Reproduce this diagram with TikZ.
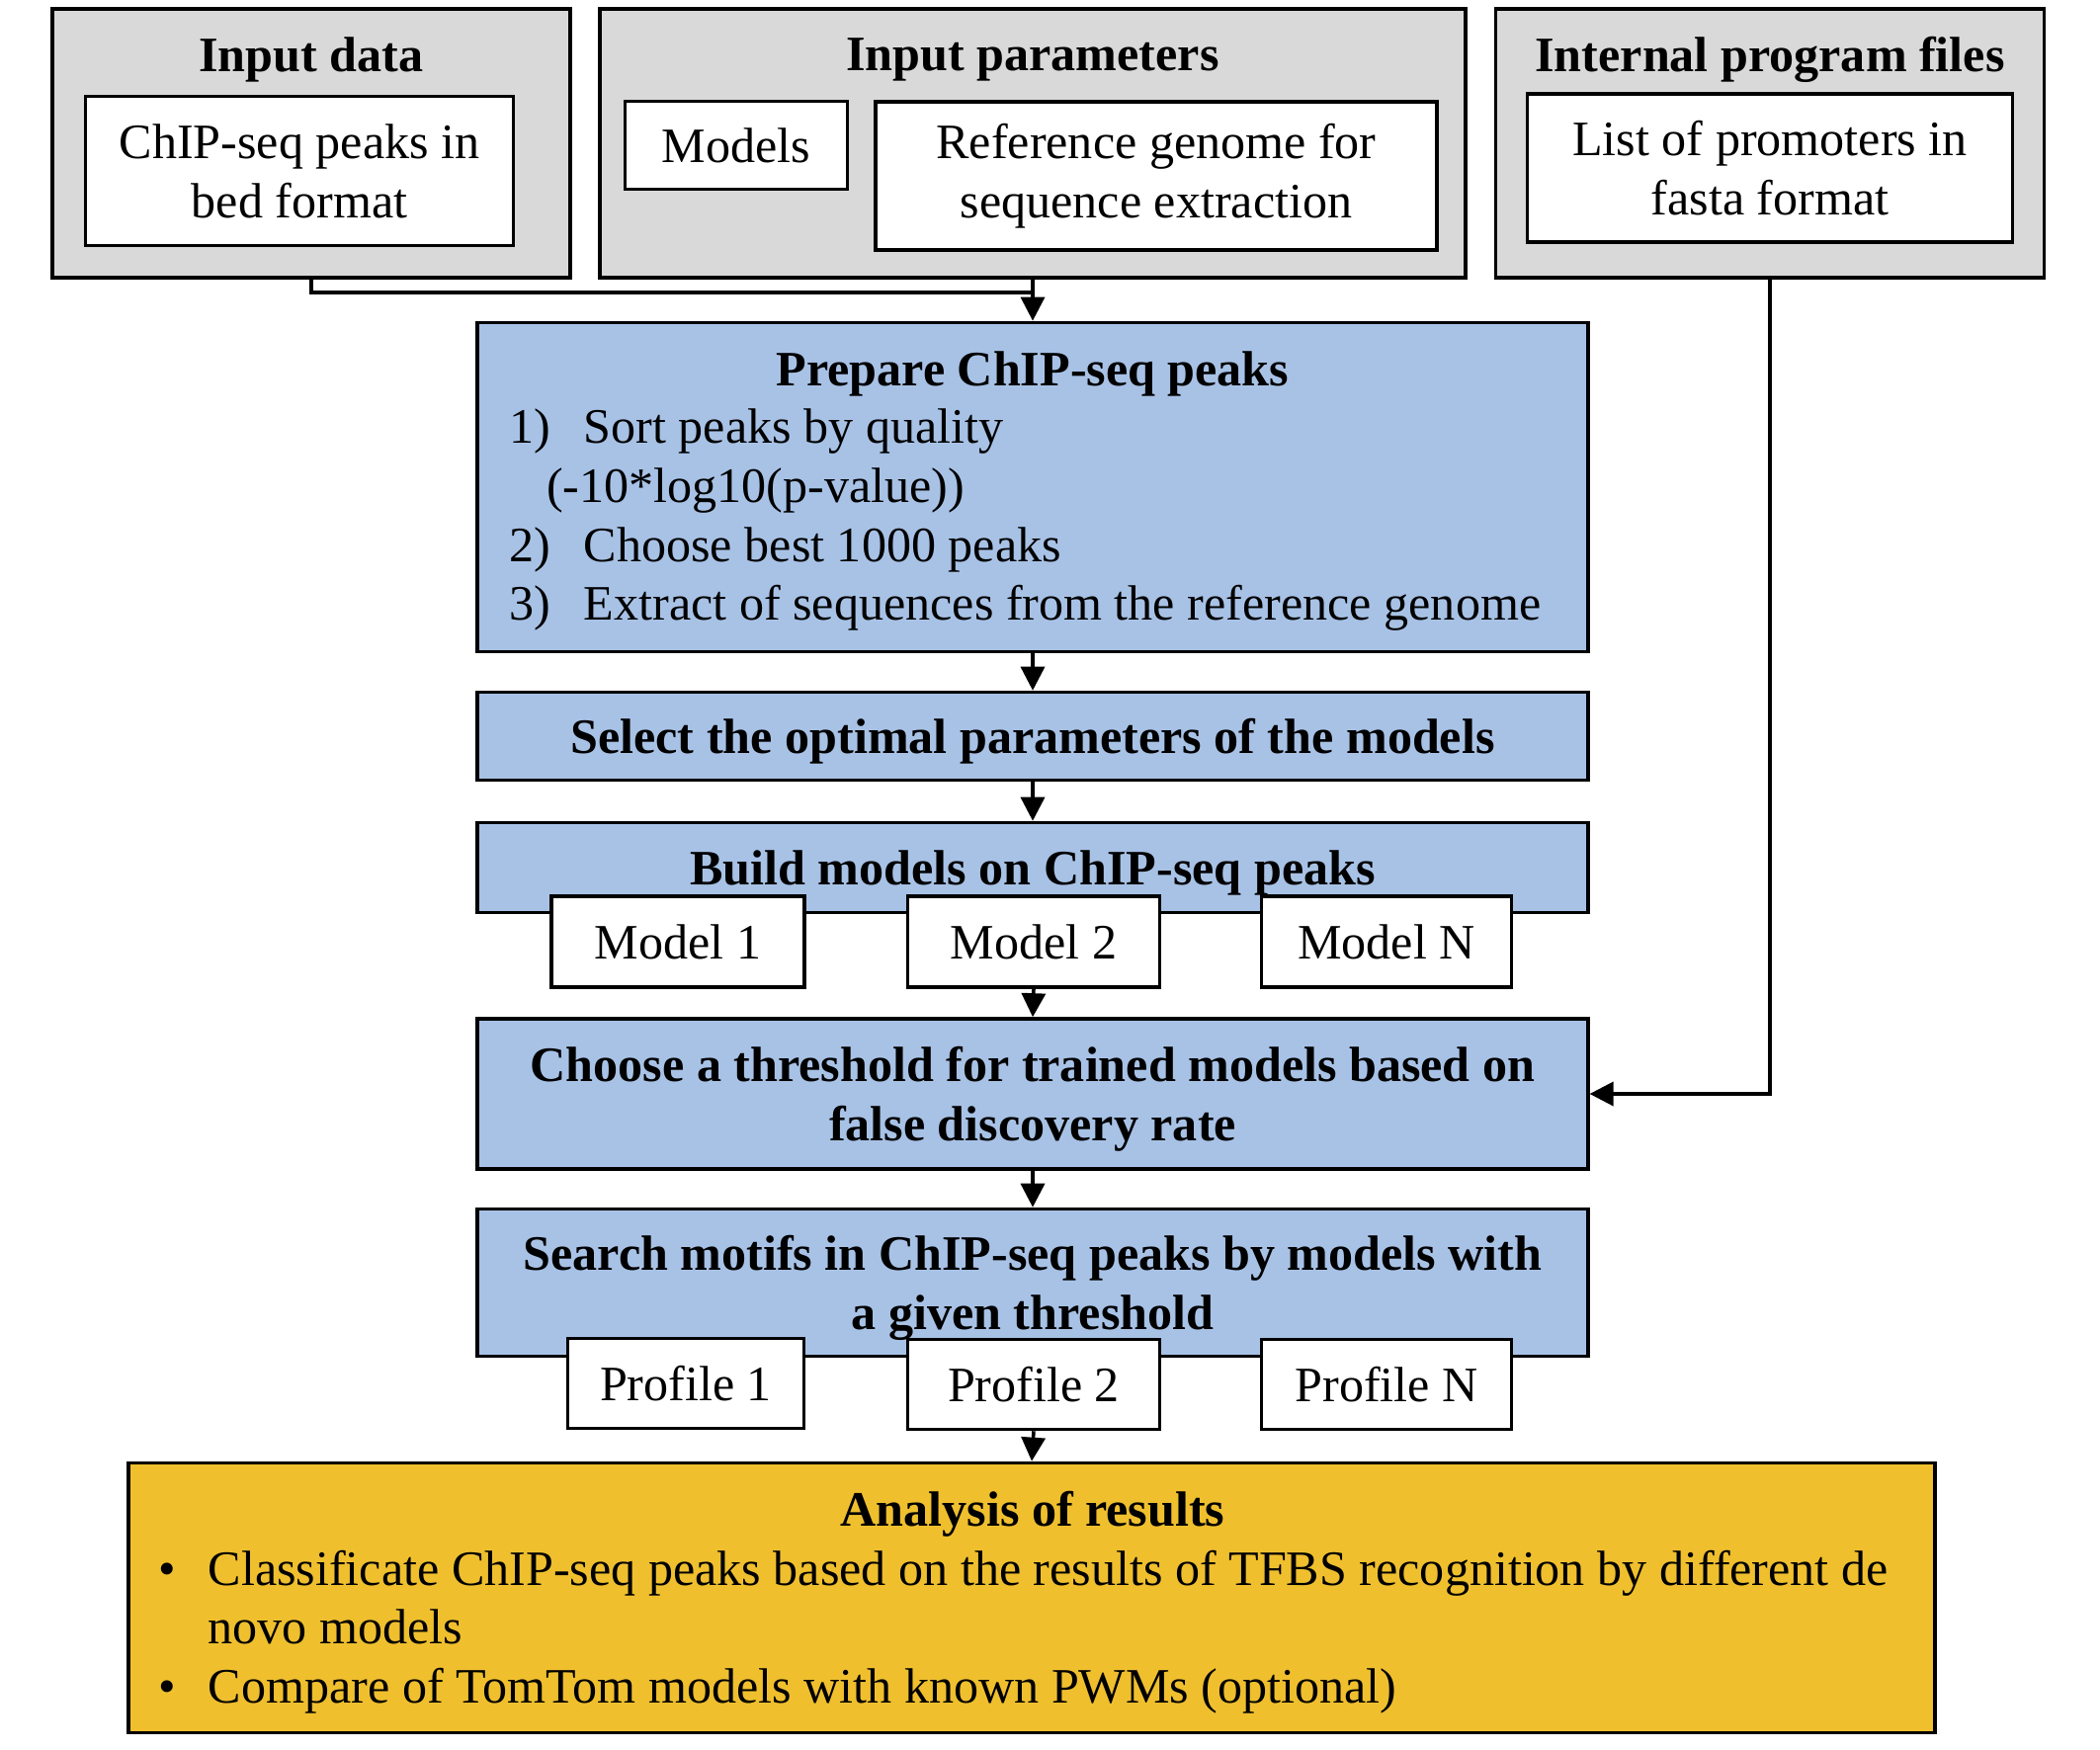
\documentclass[tikz,border=0pt]{standalone}
\usepackage{fontspec}
\setmainfont{Liberation Serif}
\usetikzlibrary{arrows.meta, positioning, calc}
\definecolor{boxgray}{RGB}{217,217,217}
\definecolor{stepblue}{RGB}{168,194,230}
\definecolor{resgold}{RGB}{239,191,46}

\begin{document}
\begin{tikzpicture}[x=0.01cm, y=-0.01cm,
    font=\fontsize{14.25}{17}\selectfont,
    group/.style={draw, line width=1pt, fill=boxgray, minimum height=2.72cm, inner sep=0pt},
    itembox/.style={draw, line width=1pt, fill=white, align=center, inner sep=0pt},
    stepbox/.style={draw, line width=1pt, fill=stepblue, align=center, inner sep=0pt, minimum width=11.23cm, text depth=0pt},
    heading/.style={font=\fontsize{14.25}{17}\selectfont\bfseries, align=center, inner sep=0pt, text depth=0pt},
    arr/.style={-{Triangle[length=2.4mm,width=2.4mm]}, line width=1pt}]
    \useasboundingbox (0,0) rectangle (2125,1770);

    % Input data
    \node[group, minimum width=5.24cm] (indata) at (315,145) {};
    \node[heading] (indatat) at (315,55) {Input data};
    \node[itembox, minimum width=4.33cm, minimum height=1.51cm] (peaks) at (303,173) {ChIP-seq peaks in\\bed format};

    % Input parameters
    \node[group, minimum width=8.75cm] (inparams) at (1045,145) {};
    \node[heading] (inparamst) at (1045,55) {Input parameters};
    \node[itembox, minimum width=2.25cm, minimum height=0.89cm] (models) at (745,147) {Models};
    \node[itembox, minimum width=5.68cm, minimum height=1.50cm] (refgen) at (1170,178) {Reference genome for\\sequence extraction};

    % Internal program files
    \node[group, minimum width=5.55cm] (internal) at (1791,145) {};
    \node[heading] (internalt) at (1791,55) {Internal program files};
    \node[itembox, minimum width=4.91cm, minimum height=1.50cm] (promoters) at (1791,170) {List of promoters in\\fasta format};

    % Prepare ChIP-seq peaks
    \node[stepbox, minimum height=3.33cm] (prep) at (1045,493) {};
    \node[heading] (prept) at (1045,373) {Prepare ChIP-seq peaks};
    \node[align=left, anchor=north west, inner sep=0pt] (preplist) at (515,413)
        {\makebox[1.5em][l]{1)}Sort peaks by quality\\
         \hspace*{0.75em}(-10*log10(p-value))\\
         \makebox[1.5em][l]{2)}Choose best 1000 peaks\\
         \makebox[1.5em][l]{3)}Extract of sequences from the reference genome};

    % Select parameters
    \node[stepbox, minimum height=0.89cm, font=\fontsize{14.25}{17}\selectfont\bfseries] (select) at (1045,745) {Select the optimal parameters of the models};

    % Build models
    \node[stepbox, minimum height=0.91cm, font=\fontsize{14.25}{17}\selectfont\bfseries] (build) at (1045,878) {Build models on ChIP-seq peaks};
    \node[itembox, minimum width=2.56cm, minimum height=0.92cm] (m1) at (686,953) {Model 1};
    \node[itembox, minimum width=2.55cm, minimum height=0.92cm] (m2) at (1046,953) {Model 2};
    \node[itembox, minimum width=2.53cm, minimum height=0.92cm] (mN) at (1403,953) {Model N};

    % Threshold
    \node[stepbox, minimum height=1.52cm, font=\fontsize{14.25}{17}\selectfont\bfseries] (choose) at (1045,1107) {Choose a threshold for trained models based on\\false discovery rate};

    % Search motifs
    \node[stepbox, minimum height=1.49cm, font=\fontsize{14.25}{17}\selectfont\bfseries] (search) at (1045,1298) {Search motifs in ChIP-seq peaks by models with\\a given threshold};
    \node[itembox, minimum width=2.39cm, minimum height=0.91cm] (p1) at (694,1400) {Profile 1};
    \node[itembox, minimum width=2.55cm, minimum height=0.91cm] (p2) at (1046,1401) {Profile 2};
    \node[itembox, minimum width=2.53cm, minimum height=0.91cm] (pN) at (1403,1401) {Profile N};

    % Analysis of results
    \node[draw, line width=1pt, fill=resgold, minimum width=18.27cm, minimum height=2.73cm, inner sep=0pt] (analysis) at (1044,1617) {};
    \node[heading] (analysist) at (1045,1527) {Analysis of results};
    \node[align=left, anchor=north west, inner sep=0pt] (analysislist) at (160,1568)
        {\makebox[1em][l]{\textbullet}Classificate ChIP-seq peaks based on the results of TFBS recognition by different de\\
         \hspace*{1em}novo models\\
         \makebox[1em][l]{\textbullet}Compare of TomTom models with known PWMs (optional)};

    % Connectors
    \draw[line width=1pt] (indata.south) -- ++(0,13) -| (inparams.south);
    \draw[arr] (inparams.south) -- (prep.north);
    \draw[arr] (prep.south) -- (select.north);
    \draw[arr] (select.south) -- (build.north);
    \draw[arr] (m2.south) -- (choose.north);
    \draw[arr] (choose.south) -- (search.north);
    \draw[arr] (p2.south) -- (analysis.north);
    \draw[arr] (internal.south) |- (choose.east);
\end{tikzpicture}
\end{document}
